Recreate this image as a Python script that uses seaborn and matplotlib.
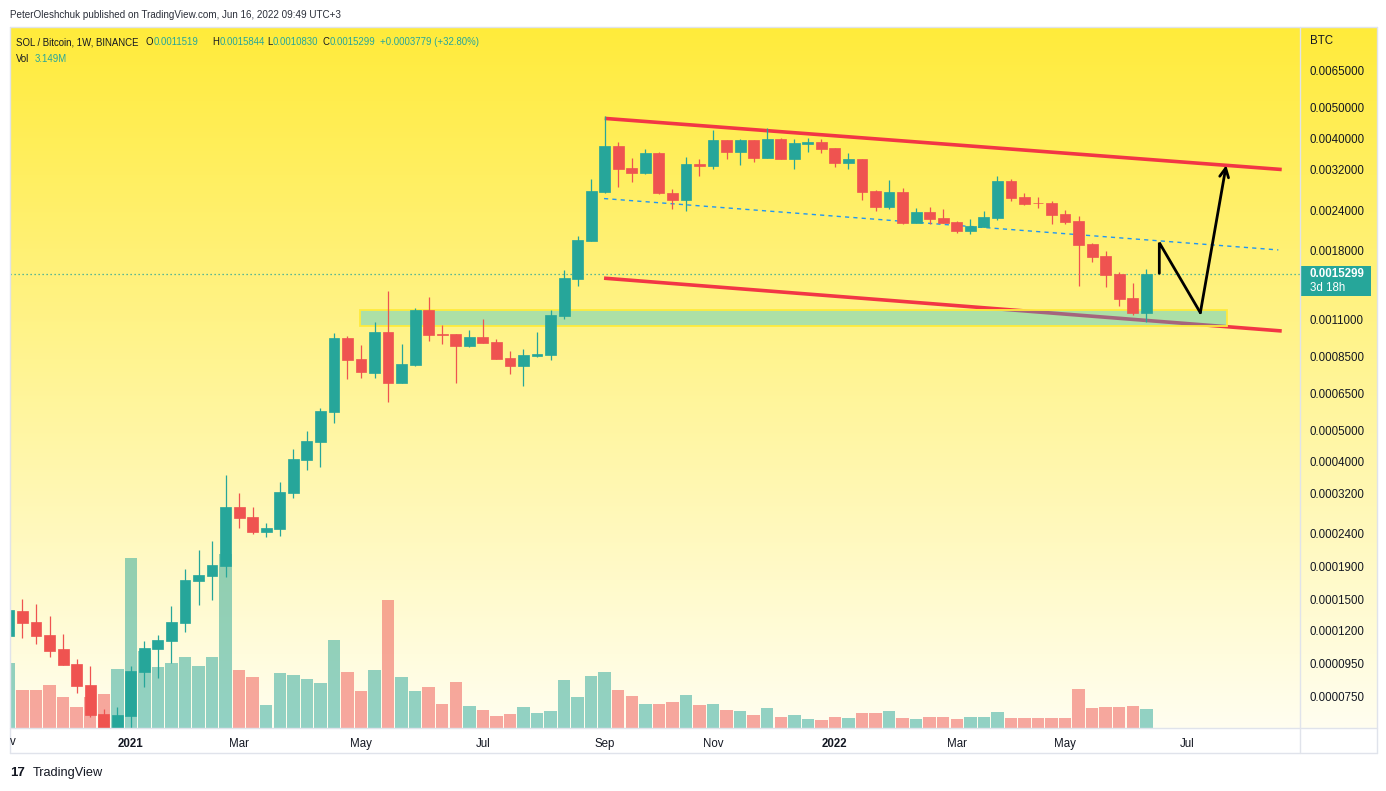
import numpy as np
import pandas as pd
import matplotlib
matplotlib.use("Agg")
import matplotlib.pyplot as plt
import seaborn as sns
from matplotlib.patches import Rectangle
from matplotlib.lines import Line2D
from matplotlib.ticker import NullLocator

# ---------------- data (SOL/BTC weekly, prices in 1e-4 BTC) ----------------
first_week = "2020-11-02"
open_e4 = [1.158, 1.382, 1.277, 1.164, 1.053, 0.947, 0.815, 0.663, 0.595, 0.655,
           0.896, 1.056, 1.118, 1.270, 1.714, 1.778, 1.907, 2.896, 2.697, 2.429,
           2.481, 3.207, 4.057, 4.614, 5.712, 9.664, 8.321, 7.544, 10.09, 7.025,
           7.975, 11.80, 9.943, 9.943, 9.147, 9.733, 9.393, 8.380, 7.936, 8.518,
           8.572, 11.33, 14.75, 19.33, 27.41, 37.95, 32.44, 31.38, 36.10, 27.15,
           25.88, 33.37, 32.97, 39.60, 36.44, 39.60, 34.91, 39.89, 34.56, 38.57,
           39.05, 37.41, 33.69, 34.59, 27.54, 24.62, 27.33, 21.97, 23.71, 22.71,
           22.05, 20.75, 21.30, 22.71, 29.58, 26.38, 25.33, 25.26, 23.38, 22.24,
           18.88, 17.33, 15.25, 12.85, 11.519]
high_e4 = [1.462, 1.500, 1.452, 1.332, 1.172, 0.981, 0.933, 0.687, 0.696, 0.933,
           1.115, 1.164, 1.431, 1.862, 2.132, 2.274, 3.638, 3.200, 2.896, 2.585,
           3.461, 4.379, 4.979, 5.865, 10.01, 9.823, 9.193, 10.83, 13.51, 9.258,
           11.96, 12.94, 10.60, 9.943, 10.23, 11.06, 9.595, 8.809, 8.934, 10.09,
           11.80, 15.69, 19.99, 30.00, 46.99, 39.05, 34.84, 37.15, 36.36, 27.94,
           35.09, 34.59, 42.53, 39.60, 39.89, 39.60, 43.14, 40.17, 39.89, 40.17,
           39.89, 37.41, 36.10, 34.59, 27.80, 29.79, 28.15, 24.40, 24.57, 24.22,
           22.29, 22.56, 23.88, 30.65, 30.00, 27.15, 26.38, 25.62, 24.05, 23.05,
           19.01, 17.96, 15.47, 14.30, 15.844]
low_e4 = [1.123, 1.142, 1.094, 0.997, 0.940, 0.772, 0.650, 0.579, 0.575, 0.591,
          0.805, 0.859, 0.951, 1.191, 1.444, 1.498, 1.763, 2.500, 2.395, 2.344,
          2.361, 3.095, 3.778, 3.860, 5.282, 7.227, 7.279, 7.279, 6.135, 7.025,
          7.919, 9.480, 9.280, 7.025, 9.082, 9.346, 8.338, 7.490, 6.876, 8.458,
          8.279, 11.09, 14.03, 19.29, 27.07, 28.40, 29.43, 31.16, 26.87, 24.28,
          23.93, 30.70, 32.28, 34.56, 33.21, 33.93, 34.91, 34.56, 32.28, 36.44,
          36.18, 32.74, 32.28, 25.83, 23.93, 24.28, 21.82, 21.97, 21.82, 21.97,
          20.46, 20.31, 21.30, 22.40, 25.64, 24.92, 24.40, 21.77, 21.77, 14.00,
          16.61, 13.90, 12.14, 11.38, 10.830]
close_e4 = [1.390, 1.270, 1.158, 1.041, 0.942, 0.811, 0.658, 0.595, 0.658, 0.901,
            1.061, 1.123, 1.277, 1.722, 1.785, 1.916, 2.896, 2.684, 2.429, 2.494,
            3.223, 4.078, 4.637, 5.740, 9.664, 8.279, 7.598, 10.09, 7.025, 8.029,
            11.80, 9.894, 9.894, 9.147, 9.733, 9.346, 8.338, 7.936, 8.561, 8.622,
            11.38, 14.82, 19.42, 27.54, 37.95, 32.28, 31.38, 36.10, 27.07, 25.88,
            33.37, 32.97, 39.60, 36.44, 39.60, 34.91, 39.89, 34.56, 38.76, 39.12,
            37.22, 33.69, 34.59, 27.41, 24.62, 27.33, 21.97, 23.71, 22.61, 21.97,
            20.75, 21.46, 22.88, 29.58, 26.25, 25.10, 25.22, 23.21, 22.05, 18.75,
            17.21, 15.14, 12.75, 11.52, 15.299]
volume_m = [10.9, 6.3, 6.3, 7.1, 5.1, 3.5, 5.1, 5.6, 9.9, 28.3,
            12.8, 10.1, 10.9, 11.8, 10.4, 11.8, 29.0, 9.6, 8.5, 3.8,
            9.1, 8.8, 8.1, 7.5, 14.7, 9.3, 6.1, 9.6, 21.4, 8.5,
            6.1, 6.8, 4.0, 7.6, 3.6, 3.0, 2.0, 2.3, 3.5, 2.5,
            2.8, 8.0, 5.1, 8.6, 9.4, 6.3, 5.3, 4.0, 4.0, 4.3,
            5.5, 3.8, 4.0, 3.0, 2.8, 2.2, 3.3, 1.8, 2.2, 1.5,
            1.3, 1.8, 1.7, 2.5, 2.5, 2.8, 1.7, 1.5, 1.8, 1.8,
            1.5, 1.8, 1.8, 2.7, 1.7, 1.7, 1.7, 1.7, 1.7, 6.5,
            3.3, 3.5, 3.5, 3.6, 3.149]
price_ticks = [0.0065, 0.005, 0.004, 0.0032, 0.0024, 0.0018, 0.0011, 0.00085,
               0.00065, 0.0005, 0.0004, 0.00032, 0.00024, 0.00019, 0.00015,
               0.00012, 0.000095, 0.000075]

# drawings (bar index, price in 1e-4 BTC)
channel_upper_x = [43.0, 93.0]
channel_upper_y = [46.2, 32.1]
channel_lower_x = [42.95, 93.0]
channel_lower_y = [14.8, 10.16]
mid_line_x = [42.95, 92.75]
mid_line_y = [26.1, 18.1]
zone_x = [24.95, 88.98]
zone_y = [10.52, 11.77]
path_x = [83.96, 83.96, 86.99, 88.9]
path_y = [15.32, 19.06, 11.57, 33.1]

header_title = "SOL / Bitcoin, 1W, BINANCE"
header_ohlc = [("O", "0.0011519"), ("H", "0.0015844"), ("L", "0.0010830"), ("C", "0.0015299")]
header_change = "+0.0003779 (+32.80%)"
header_volume = "3.149M"
publisher = "PeterOleshchuk published on TradingView.com, Jun 16, 2022 09:49 UTC+3"
last_price_label = "0.0015299"
countdown_label = "3d 18h"

# ---------------- setup ----------------
W, H = 1386, 791
sns.set_style("white")
plt.rcParams["font.family"] = ["Liberation Sans", "DejaVu Sans"]
TEAL = "#26a69a"
RED = "#ef5350"
TXT = "#131722"

o = np.array(open_e4) * 1e-4
hi = np.array(high_e4) * 1e-4
lo = np.array(low_e4) * 1e-4
c = np.array(close_e4) * 1e-4
n = len(o)
bar_idx = np.arange(-1, n - 1)
up = c >= o
colors = np.where(up, TEAL, RED)

fig = plt.figure(figsize=(W / 100, H / 100), dpi=100)
fig.patch.set_facecolor("white")


def fx(px):
    return px / W


def fy(py):
    return 1 - py / H


pane_l, pane_r, pane_t, pane_b = 10, 1300, 27, 728
outer_r, outer_b = 1377, 753

# background gradient (pane + price scale)
bg = fig.add_axes([fx(pane_l), fy(pane_b), fx(outer_r - pane_l), (pane_b - pane_t) / H])
g = np.linspace(0, 1, 400)[:, None, None]
top_c = np.array([255, 235, 59]) / 255
bot_c = np.array([255, 254, 240]) / 255
img = top_c * (1 - g) + bot_c * g
img = np.repeat(img, 2, axis=1)
bg.imshow(img, aspect="auto", extent=[0, 1, 0, 1], origin="upper")
bg.set_axis_off()

rect = [fx(pane_l), fy(pane_b), fx(pane_r - pane_l), (pane_b - pane_t) / H]
xlim = (-0.923, 94.35)
ylim = (6.003e-5, 8.861e-3)

# volume
ax_v = fig.add_axes(rect)
ax_v.patch.set_alpha(0)
vol_df = pd.DataFrame({"bar": bar_idx, "volume": volume_m,
                       "dir": np.where(up, "up", "down")})
sns.barplot(data=vol_df, x="bar", y="volume", hue="dir", native_scale=True,
            palette={"up": TEAL, "down": RED}, dodge=False, width=0.92,
            alpha=0.5, saturation=1, errorbar=None, legend=False, ax=ax_v,
            linewidth=0)
ax_v.set_xlim(*xlim)
ax_v.set_ylim(0, 117)
ax_v.set_axis_off()

# price
ax = fig.add_axes(rect)
ax.patch.set_alpha(0)
ax.set_yscale("log")
ax.set_xlim(*xlim)
ax.set_ylim(*ylim)

# channel lines and zone
ax.plot(channel_upper_x, np.array(channel_upper_y) * 1e-4, color="#f23645", lw=2.6,
        solid_capstyle="butt", zorder=2)
ax.plot(channel_lower_x, np.array(channel_lower_y) * 1e-4, color="#f23645", lw=2.6,
        solid_capstyle="butt", zorder=2)
ax.plot(mid_line_x, np.array(mid_line_y) * 1e-4, color="#2196f3", lw=1.0,
        ls=(0, (3, 3)), zorder=2)
zy0, zy1 = np.array(zone_y) * 1e-4
ax.add_patch(Rectangle((zone_x[0], zy0), zone_x[1] - zone_x[0], zy1 - zy0,
                       facecolor=(0.08, 0.75, 0.9, 0.35), edgecolor="#ffeb3b",
                       lw=1.3, zorder=3))

# current price line
ax.axhline(c[-1], color=TEAL, lw=0.9, ls=(0, (1, 2.2)), zorder=3)

# candles
ax.vlines(bar_idx, lo, hi, colors=colors, lw=0.9, zorder=4)
ax.bar(bar_idx, np.maximum(o, c) - np.minimum(o, c), bottom=np.minimum(o, c),
       width=0.8, color=colors, edgecolor=colors, linewidth=0.5, zorder=5)

# forecast path
py = np.array(path_y) * 1e-4
ax.plot(path_x[:3], py[:3], color="black", lw=2.0, solid_joinstyle="miter", zorder=6)
ax.annotate("", xy=(path_x[3], py[3]), xytext=(path_x[2], py[2]),
            arrowprops=dict(arrowstyle="->", color="black", lw=2.0,
                            mutation_scale=16, shrinkA=0, shrinkB=0), zorder=6)

# y axis on the right
ax.yaxis.tick_right()
ax.set_yticks(price_ticks)
ax.set_yticklabels([f"{v:.7f}" for v in price_ticks])
ax.yaxis.set_minor_locator(NullLocator())
ax.tick_params(axis="y", length=0, pad=7, labelsize=8.3, colors=TXT)

# x axis ticks at first bar of each labelled month
cal = pd.date_range(first_week, periods=110, freq="W-MON")
xt, xl, xw = [], [], []
for i in range(1, len(cal)):
    if cal[i].month != cal[i - 1].month:
        m = cal[i].month
        pos = i - 1
        if not (xlim[0] < pos < xlim[1]):
            continue
        if m == 1:
            xt.append(pos); xl.append(str(cal[i].year)); xw.append("bold")
        elif m % 2 == 1:
            xt.append(pos); xl.append(cal[i].strftime("%b")); xw.append("normal")
ax.set_xticks(xt)
ax.set_xticklabels(xl)
for lab, wgt in zip(ax.get_xticklabels(), xw):
    lab.set_fontweight(wgt)
ax.xaxis.set_minor_locator(NullLocator())
ax.tick_params(axis="x", length=0, pad=7, labelsize=8.3, colors=TXT)
for s in ax.spines.values():
    s.set_visible(False)
ax.grid(False)

# frame lines
frame = "#e0e3eb"
for (x0, y0, x1, y1) in [(pane_l, pane_t, outer_r, pane_t), (pane_l, outer_b, outer_r, outer_b),
                         (pane_l, pane_t, pane_l, outer_b), (outer_r, pane_t, outer_r, outer_b),
                         (pane_r, pane_t, pane_r, outer_b), (pane_l, pane_b, outer_r, pane_b)]:
    fig.add_artist(Line2D([fx(x0), fx(x1)], [fy(y0), fy(y1)], color=frame, lw=1.0))

# clipped first month label
fig.text(fx(10), fy(742), "v", ha="left", va="center", fontsize=8.3, color=TXT)

# texts
renderer = fig.canvas.get_renderer()


def put(x, y, s, size, color=TXT, weight="normal"):
    t = fig.text(fx(x), fy(y), s, ha="left", va="center", fontsize=size,
                 color=color, fontweight=weight)
    bb = t.get_window_extent(renderer=renderer)
    return bb.x1


def fit_size(s, target, base=10.0, weight="normal"):
    t = fig.text(0, 0, s, fontsize=base, fontweight=weight)
    w = t.get_window_extent(renderer=renderer).width
    t.remove()
    return base * target / w


ps = fit_size(publisher, 333)
put(10, 14.7, publisher, ps, color="#2a2e39")

hs = fit_size(header_title, 124)
put(15.7, 42.3, header_title, hs)
for (letter, val), xpos in zip(header_ohlc, [145.7, 212.3, 267.7, 322.3]):
    xe = put(xpos, 42.3, letter, hs)
    put(xe, 42.3, val, hs, color=TEAL)
put(379.7, 42.3, header_change, hs, color=TEAL)
put(15.7, 59.3, "Vol", hs)
put(34.3, 59.3, header_volume, hs, color=TEAL)

put(1310, 40.7, "BTC", 8.3)

# current price label
_, yd = ax.transData.transform((0, c[-1]))
yc = H - yd
fig.add_artist(Rectangle((fx(pane_r), fy(yc + 22.2)), fx(71), 30 / H,
                         transform=fig.transFigure, facecolor=TEAL, edgecolor="none"))
put(1310, yc + 0.5, last_price_label, 8.3, color="white", weight="bold")
put(1310, yc + 14.8, countdown_label, 8.3, color="white")

# TradingView logo text
put(10, 773, "17", 9.5, color=TXT, weight="bold")
put(33, 773, "TradingView", 9.2, color=TXT)

fig.savefig("out.png", dpi=100, facecolor="white")
